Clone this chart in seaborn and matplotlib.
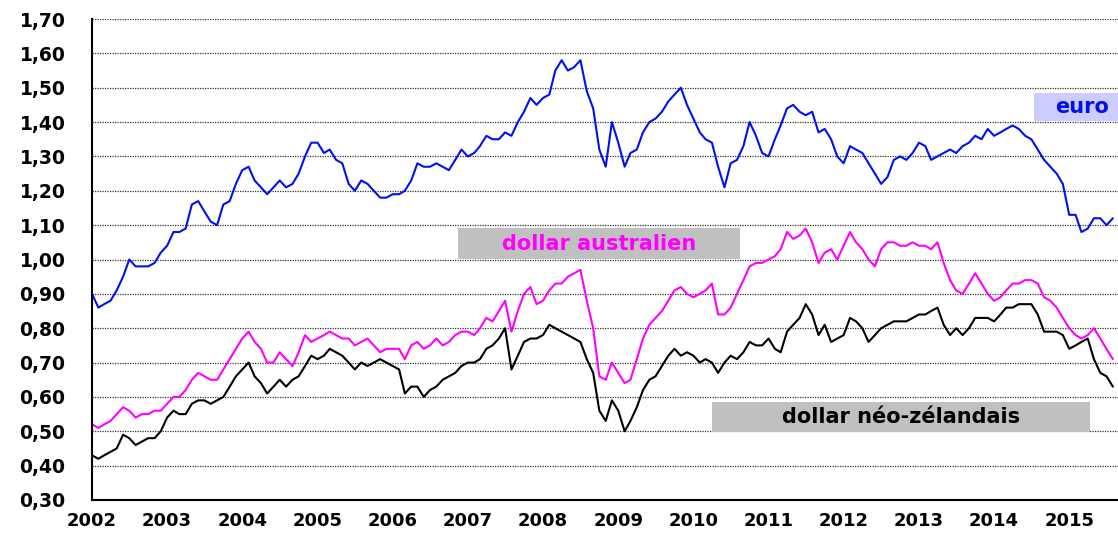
import numpy as np
import pandas as pd
import seaborn as sns
import matplotlib
matplotlib.use("Agg")
import matplotlib.pyplot as plt
from matplotlib.patches import Rectangle
from matplotlib.ticker import FuncFormatter

# valeurs mensuelles (début de mois), janv. 2002 -> août 2015, en dollars US
euro = [
    0.90, 0.86, 0.87, 0.88, 0.91, 0.95, 1.00, 0.98, 0.98, 0.98, 0.99, 1.02,  # 2002
    1.04, 1.08, 1.08, 1.09, 1.16, 1.17, 1.14, 1.11, 1.10, 1.16, 1.17, 1.22,  # 2003
    1.26, 1.27, 1.23, 1.21, 1.19, 1.21, 1.23, 1.21, 1.22, 1.25, 1.30, 1.34,  # 2004
    1.34, 1.31, 1.32, 1.29, 1.28, 1.22, 1.20, 1.23, 1.22, 1.20, 1.18, 1.18,  # 2005
    1.19, 1.19, 1.20, 1.23, 1.28, 1.27, 1.27, 1.28, 1.27, 1.26, 1.29, 1.32,  # 2006
    1.30, 1.31, 1.33, 1.36, 1.35, 1.35, 1.37, 1.36, 1.40, 1.43, 1.47, 1.45,  # 2007
    1.47, 1.48, 1.55, 1.58, 1.55, 1.56, 1.58, 1.49, 1.44, 1.32, 1.27, 1.40,  # 2008
    1.34, 1.27, 1.31, 1.32, 1.37, 1.40, 1.41, 1.43, 1.46, 1.48, 1.50, 1.45,  # 2009
    1.41, 1.37, 1.35, 1.34, 1.27, 1.21, 1.28, 1.29, 1.33, 1.40, 1.36, 1.31,  # 2010
    1.30, 1.35, 1.39, 1.44, 1.45, 1.43, 1.42, 1.43, 1.37, 1.38, 1.35, 1.30,  # 2011
    1.28, 1.33, 1.32, 1.31, 1.28, 1.25, 1.22, 1.24, 1.29, 1.30, 1.29, 1.31,  # 2012
    1.34, 1.33, 1.29, 1.30, 1.31, 1.32, 1.31, 1.33, 1.34, 1.36, 1.35, 1.38,  # 2013
    1.36, 1.37, 1.38, 1.39, 1.38, 1.36, 1.35, 1.32, 1.29, 1.27, 1.25, 1.22,  # 2014
    1.13, 1.13, 1.08, 1.09, 1.12, 1.12, 1.10, 1.12,                          # 2015
]

dollar_australien = [
    0.52, 0.51, 0.52, 0.53, 0.55, 0.57, 0.56, 0.54, 0.55, 0.55, 0.56, 0.56,  # 2002
    0.58, 0.60, 0.60, 0.62, 0.65, 0.67, 0.66, 0.65, 0.65, 0.68, 0.71, 0.74,  # 2003
    0.77, 0.79, 0.76, 0.74, 0.70, 0.70, 0.73, 0.71, 0.69, 0.73, 0.78, 0.76,  # 2004
    0.77, 0.78, 0.79, 0.78, 0.77, 0.77, 0.75, 0.76, 0.77, 0.75, 0.73, 0.74,  # 2005
    0.74, 0.74, 0.71, 0.75, 0.76, 0.74, 0.75, 0.77, 0.75, 0.76, 0.78, 0.79,  # 2006
    0.79, 0.78, 0.80, 0.83, 0.82, 0.85, 0.88, 0.79, 0.85, 0.90, 0.92, 0.87,  # 2007
    0.88, 0.91, 0.93, 0.93, 0.95, 0.96, 0.97, 0.88, 0.80, 0.66, 0.65, 0.70,  # 2008
    0.67, 0.64, 0.65, 0.71, 0.77, 0.81, 0.83, 0.85, 0.88, 0.91, 0.92, 0.90,  # 2009
    0.89, 0.90, 0.91, 0.93, 0.84, 0.84, 0.86, 0.90, 0.94, 0.98, 0.99, 0.99,  # 2010
    1.00, 1.01, 1.03, 1.08, 1.06, 1.07, 1.09, 1.05, 0.99, 1.02, 1.03, 1.00,  # 2011
    1.04, 1.08, 1.05, 1.03, 1.00, 0.98, 1.03, 1.05, 1.05, 1.04, 1.04, 1.05,  # 2012
    1.04, 1.04, 1.03, 1.05, 0.99, 0.94, 0.91, 0.90, 0.93, 0.96, 0.93, 0.90,  # 2013
    0.88, 0.89, 0.91, 0.93, 0.93, 0.94, 0.94, 0.93, 0.89, 0.88, 0.86, 0.83,  # 2014
    0.80, 0.78, 0.77, 0.78, 0.80, 0.77, 0.74, 0.71,                          # 2015
]

dollar_neo_zelandais = [
    0.43, 0.42, 0.43, 0.44, 0.45, 0.49, 0.48, 0.46, 0.47, 0.48, 0.48, 0.50,  # 2002
    0.54, 0.56, 0.55, 0.55, 0.58, 0.59, 0.59, 0.58, 0.59, 0.60, 0.63, 0.66,  # 2003
    0.68, 0.70, 0.66, 0.64, 0.61, 0.63, 0.65, 0.63, 0.65, 0.66, 0.69, 0.72,  # 2004
    0.71, 0.72, 0.74, 0.73, 0.72, 0.70, 0.68, 0.70, 0.69, 0.70, 0.71, 0.70,  # 2005
    0.69, 0.68, 0.61, 0.63, 0.63, 0.60, 0.62, 0.63, 0.65, 0.66, 0.67, 0.69,  # 2006
    0.70, 0.70, 0.71, 0.74, 0.75, 0.77, 0.80, 0.68, 0.72, 0.76, 0.77, 0.77,  # 2007
    0.78, 0.81, 0.80, 0.79, 0.78, 0.77, 0.76, 0.71, 0.67, 0.56, 0.53, 0.59,  # 2008
    0.56, 0.50, 0.53, 0.57, 0.62, 0.65, 0.66, 0.69, 0.72, 0.74, 0.72, 0.73,  # 2009
    0.72, 0.70, 0.71, 0.70, 0.67, 0.70, 0.72, 0.71, 0.73, 0.76, 0.75, 0.75,  # 2010
    0.77, 0.74, 0.73, 0.79, 0.81, 0.83, 0.87, 0.84, 0.78, 0.81, 0.76, 0.77,  # 2011
    0.78, 0.83, 0.82, 0.80, 0.76, 0.78, 0.80, 0.81, 0.82, 0.82, 0.82, 0.83,  # 2012
    0.84, 0.84, 0.85, 0.86, 0.81, 0.78, 0.80, 0.78, 0.80, 0.83, 0.83, 0.83,  # 2013
    0.82, 0.84, 0.86, 0.86, 0.87, 0.87, 0.87, 0.84, 0.79, 0.79, 0.79, 0.78,  # 2014
    0.74, 0.75, 0.76, 0.77, 0.71, 0.67, 0.66, 0.63,                          # 2015
]

dates = pd.date_range("2002-01-01", periods=len(euro), freq="MS")
annees = list(range(2002, 2016))

df = pd.DataFrame({"date": dates, "euro": euro,
                   "aud": dollar_australien, "nzd": dollar_neo_zelandais})

sns.set_style("white")
plt.rcParams["font.family"] = ["DejaVu Sans"]

fig = plt.figure(figsize=(11.18, 5.33), dpi=100)
ax = fig.add_axes([92 / 1118, 1 - 500 / 533, 1 - 92 / 1118, 481 / 533])

sns.lineplot(data=df, x="date", y="euro", color="#0010f0", lw=1.5, ax=ax)
sns.lineplot(data=df, x="date", y="aud", color="#ff00ff", lw=1.5, ax=ax)
sns.lineplot(data=df, x="date", y="nzd", color="black", lw=1.5, ax=ax)

ax.set_xlim(pd.Timestamp("2002-01-01"), pd.Timestamp("2015-08-26"))
ax.set_ylim(0.30, 1.70)
ax.set_xlabel("")
ax.set_ylabel("")

ax.set_yticks(np.arange(0.30, 1.701, 0.10))
ax.yaxis.set_major_formatter(FuncFormatter(lambda v, p: f"{v:.2f}".replace(".", ",")))
ax.set_xticks([pd.Timestamp(f"{a}-01-01") for a in annees])
ax.set_xticklabels([str(a) for a in annees])

ax.yaxis.grid(True, linestyle=(0, (1, 1)), color="#333333", lw=0.9)
ax.xaxis.grid(False)
ax.set_axisbelow(True)

for s in ["top", "right"]:
    ax.spines[s].set_visible(False)
for s in ["left", "bottom"]:
    ax.spines[s].set_color("black")
    ax.spines[s].set_linewidth(1.5)

ax.tick_params(axis="y", direction="out", length=5, width=1, color="#888888",
               pad=14, labelsize=13.5, labelcolor="black")
ax.tick_params(axis="x", direction="out", length=5, width=1, color="#888888",
               pad=4, labelsize=13, labelcolor="black")
for lab in ax.get_xticklabels() + ax.get_yticklabels():
    lab.set_fontweight("bold")

# étiquettes des séries
def etiquette(x0, y0, x1, y1, texte, fond, couleur):
    fig.patches.append(Rectangle((x0 / 1118, 1 - y1 / 533), (x1 - x0) / 1118,
                                 (y1 - y0) / 533, transform=fig.transFigure,
                                 facecolor=fond, edgecolor="none", zorder=5))
    fig.text((x0 + x1) / 2 / 1118, 1 - (y0 + y1) / 2 / 533, texte, color=couleur,
             fontsize=15, fontweight="bold", ha="center", va="center", zorder=6)

etiquette(1034, 93, 1130, 121, "euro", "#ccccff", "#0010f0")
etiquette(458, 228, 740, 259, "dollar australien", "#c0c0c0", "#ff00ff")
etiquette(712, 402, 1090, 432, "dollar néo-zélandais", "#c0c0c0", "black")

fig.savefig("out.png", dpi=100)
